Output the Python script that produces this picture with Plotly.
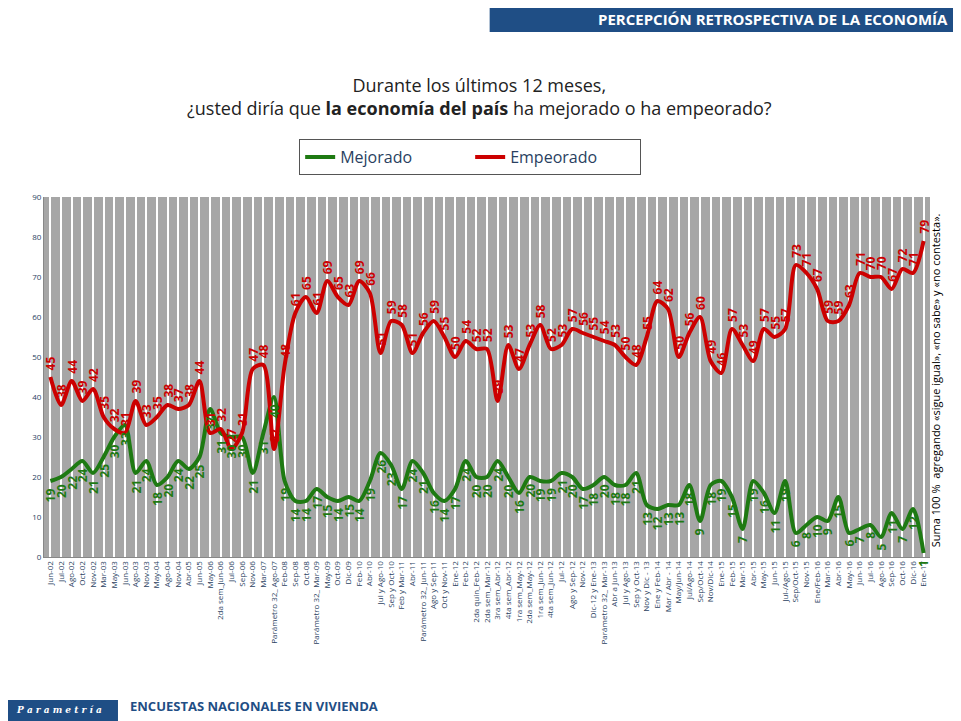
import plotly.graph_objects as go

labels = ["Jun-02", "Jul-02", "Ago-02", "Oct-02", "Nov-02", "Mar-03", "May-03", "Jun-03", "Ago-03", "Nov-03",
          "May-04", "Ago-04", "Nov-04", "Abr-05", "Jun-05", "May-06", "2da sem_Jun-06", "Jul-06", "Sep-06", "Nov-06",
          "Mar-07", "Parámetro 32_ Ago-07", "Feb-08", "Sep-08", "Oct-08", "Parámetro 32_ Mar-09", "May-09", "Oct-09", "Dic-09", "Feb-10",
          "Abr-10", "Jul y Ago-10", "Sep y Oct-10", "Feb y Mar-11", "Abr-11", "Parámetro 32_ Jun-11", "Ago y Sep-11", "Oct y Nov-11", "Ene-12", "Feb-12",
          "2da quin_Feb-12", "2da sem_Mar-12", "3ra sem_Abr-12", "4ta sem_Abr-12", "1ra sem_May-12", "2da sem_May-12", "1ra sem_Jun-12", "4ta sem_Jun-12", "Jul-12", "Ago y Sep-12",
          "Nov-12", "Dic-12 y Ene-13", "Parámetro 32_ Mar-13", "Abr a Jun-13", "Jul y Ago-13", "Sep y Oct-13", "Nov y Dic - 13", "Ene y Feb-14", "Mar / Abr - 14", "May/Jun-14",
          "Jul/Ago-14", "Sep/Oct-14", "Nov/Dic-14", "Ene-15", "Feb-15", "Mar-15", "Abr-15", "May-15", "Jun-15", "Jul-/Ago-15",
          "Sep/Oct-15", "Nov-15", "Ene/Feb-16", "Mar-16", "Abr-16", "May-16", "Jun-16", "Jul-16", "Ago-16", "Sep-16",
          "Oct-16", "Dic-16", "Ene-17"]

mejorado = [19, 20, 22, 24, 21, 25, 30, 33, 21, 24,
            18, 20, 24, 22, 25, 37, 31, 30, 30, 21,
            31, 40, 19, 14, 14, 17, 15, 14, 15, 14,
            19, 26, 23, 17, 24, 21, 16, 14, 17, 24,
            20, 20, 24, 20, 16, 20, 19, 19, 21, 20,
            17, 18, 20, 18, 18, 21, 13, 12, 13, 13,
            18, 9, 18, 19, 15, 7, 19, 16, 11, 19,
            6, 8, 10, 9, 15, 6, 7, 8, 5, 11,
            7, 12, 1]

empeorado = [45, 38, 44, 39, 42, 35, 32, 31, 39, 33,
             35, 38, 37, 38, 44, 31, 32, 27, 31, 47,
             48, 27, 48, 61, 65, 61, 69, 65, 63, 69,
             66, 51, 59, 58, 51, 56, 59, 55, 50, 54,
             52, 52, 39, 53, 47, 53, 58, 52, 53, 57,
             56, 55, 54, 53, 50, 48, 55, 64, 62, 50,
             56, 60, 49, 46, 57, 53, 49, 57, 55, 57,
             73, 71, 67, 59, 59, 63, 71, 70, 70, 67,
             72, 71, 79]

GREEN = "#1e7a12"
RED = "#cc0000"
BLUE = "#1f4e85"
x = list(range(len(labels)))

fig = go.Figure()
fig.add_trace(go.Scatter(x=x, y=mejorado, mode="lines", name="Mejorado",
                         line=dict(color=GREEN, width=4, shape="spline", smoothing=0.8)))
fig.add_trace(go.Scatter(x=x, y=empeorado, mode="lines", name="Empeorado",
                         line=dict(color=RED, width=4, shape="spline", smoothing=0.8)))

# rotated data labels
for i in x:
    fig.add_annotation(x=i, y=mejorado[i], text="<b>%d</b>" % mejorado[i], textangle=-90, showarrow=False,
                       yanchor="top", yshift=-5, font=dict(color=GREEN, size=12, family="Open Sans"))
    fig.add_annotation(x=i, y=empeorado[i], text="<b>%d</b>" % empeorado[i], textangle=-90, showarrow=False,
                       yanchor="bottom", yshift=5, font=dict(color=RED, size=12, family="Open Sans"))

# title
fig.add_annotation(xref="paper", yref="paper", x=0.492, y=1.28, xanchor="center", yanchor="middle",
                   showarrow=False,
                   text="Durante los últimos 12 meses,<br>¿usted diría que <b>la economía del país</b> ha mejorado o ha empeorado?",
                   font=dict(size=18, color="#222", family="Open Sans"))

# header / footer bars
fig.add_shape(type="rect", xref="paper", yref="paper", x0=0.503, x1=1.1, y0=1.458, y1=1.56,
              fillcolor=BLUE, line_width=0, layer="below")
fig.add_shape(type="rect", xref="paper", yref="paper", x0=-0.1, x1=1.1, y0=1.535, y1=1.56,
              fillcolor=BLUE, line_width=0, layer="below")
fig.add_annotation(xref="paper", yref="paper", x=1.0226, y=1.494, xanchor="right", yanchor="middle",
                   showarrow=False, text="<b>PERCEPCIÓN RETROSPECTIVA DE LA ECONOMÍA</b>",
                   font=dict(color="white", size=15, family="Open Sans"))
fig.add_shape(type="rect", xref="paper", yref="paper", x0=-0.06, x1=0.0835, y0=-0.47, y1=-0.397,
              fillcolor=BLUE, line_width=0)
fig.add_annotation(xref="paper", yref="paper", x=0.017, y=-0.445, xanchor="center", showarrow=False,
                   text="<i><b>P a r a m e t r í a</b></i>",
                   font=dict(color="white", size=9, family="DejaVu Serif"))
fig.add_annotation(xref="paper", yref="paper", x=0.0948, y=-0.445, xanchor="left", showarrow=False,
                   text="<b>ENCUESTAS NACIONALES EN VIVIENDA</b>",
                   font=dict(color=BLUE, size=13, family="Open Sans"))
fig.add_annotation(xref="paper", yref="paper", x=1.017, y=0.49, textangle=-90, showarrow=False,
                   text="Suma 100 %  agregando «sigue igual», «no sabe» y «no contesta».",
                   font=dict(color="black", size=11, family="Open Sans"))

fig.update_layout(
    width=961, height=721,
    paper_bgcolor="white", plot_bgcolor="#a6a6a6",
    margin=dict(l=36, r=39, t=189, b=172),
    legend=dict(orientation="h", x=0.481, y=1.111, xanchor="center", yanchor="middle",
                entrywidth=125, bordercolor="#555", borderwidth=1,
                font=dict(size=16, family="Open Sans")),
    showlegend=True,
)
fig.update_xaxes(tickvals=x, ticktext=labels, tickangle=-90, range=[-0.6, len(labels) - 0.4],
                 showgrid=True, gridcolor="white", gridwidth=2,
                 tickfont=dict(size=8, family="Open Sans"), showline=True, linecolor="#888")
fig.update_yaxes(range=[0, 90], dtick=10, showgrid=False, tickfont=dict(size=8, family="Open Sans"),
                 showline=True, linecolor="#888", zeroline=False)

fig.write_html("out.html")
